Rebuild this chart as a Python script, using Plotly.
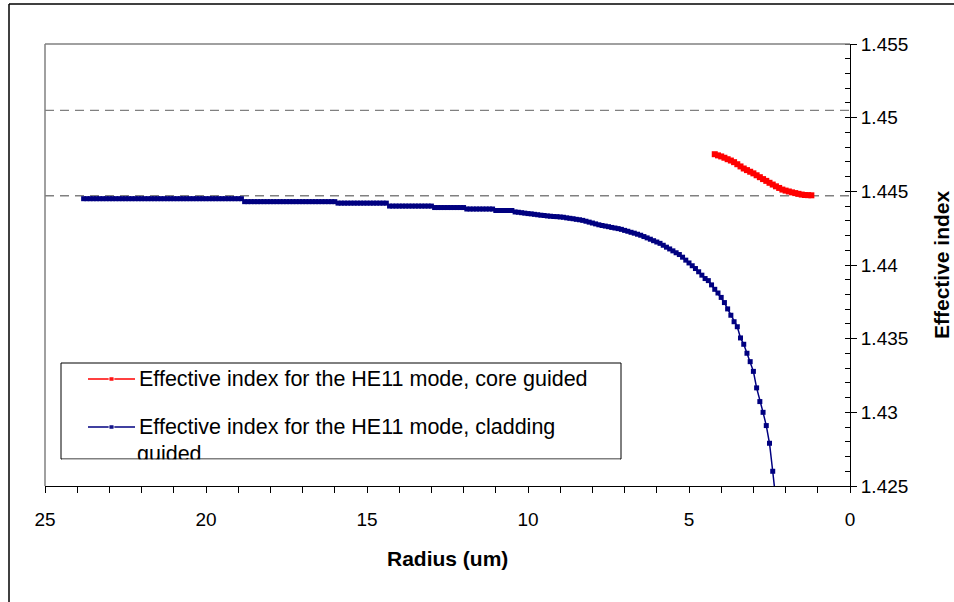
import plotly.graph_objects as go

# radius (um) and effective index, cladding guided HE11 (blue)
RADIUS_CLAD = [
    23.8, 23.7, 23.6, 23.5, 23.4, 23.3, 23.2, 23.1, 23.0, 22.9,
    22.8, 22.7, 22.6, 22.5, 22.4, 22.3, 22.2, 22.1, 22.0, 21.9,
    21.8, 21.7, 21.6, 21.5, 21.4, 21.3, 21.2, 21.1, 21.0, 20.9,
    20.8, 20.7, 20.6, 20.5, 20.4, 20.3, 20.2, 20.1, 20.0, 19.9,
    19.8, 19.7, 19.6, 19.5, 19.4, 19.3, 19.2, 19.1, 19.0, 18.9,
    18.8, 18.7, 18.6, 18.5, 18.4, 18.3, 18.2, 18.1, 18.0, 17.9,
    17.8, 17.7, 17.6, 17.5, 17.4, 17.3, 17.2, 17.1, 17.0, 16.9,
    16.8, 16.7, 16.6, 16.5, 16.4, 16.3, 16.2, 16.1, 16.0, 15.9,
    15.8, 15.7, 15.6, 15.5, 15.4, 15.3, 15.2, 15.1, 15.0, 14.9,
    14.8, 14.7, 14.6, 14.5, 14.4, 14.3, 14.2, 14.1, 14.0, 13.9,
    13.8, 13.7, 13.6, 13.5, 13.4, 13.3, 13.2, 13.1, 13.0, 12.9,
    12.8, 12.7, 12.6, 12.5, 12.4, 12.3, 12.2, 12.1, 12.0, 11.9,
    11.8, 11.7, 11.6, 11.5, 11.4, 11.3, 11.2, 11.1, 11.0, 10.9,
    10.8, 10.7, 10.6, 10.5, 10.4, 10.3, 10.2, 10.1, 10.0, 9.9,
    9.8, 9.7, 9.6, 9.5, 9.4, 9.3, 9.2, 9.1, 9.0, 8.9,
    8.8, 8.7, 8.6, 8.5, 8.4, 8.3, 8.2, 8.1, 8.0, 7.9,
    7.8, 7.7, 7.6, 7.5, 7.4, 7.3, 7.2, 7.1, 7.0, 6.9,
    6.8, 6.7, 6.6, 6.5, 6.4, 6.3, 6.2, 6.1, 6.0, 5.9,
    5.8, 5.7, 5.6, 5.5, 5.4, 5.3, 5.2, 5.1, 5.0, 4.9,
    4.8, 4.7, 4.6, 4.5, 4.4, 4.3, 4.2, 4.1, 4.0, 3.9,
    3.8, 3.7, 3.6, 3.5, 3.4, 3.3, 3.2, 3.1, 3.0, 2.9,
    2.8, 2.7, 2.6, 2.5, 2.4, 2.3,
]
INDEX_CLAD = [
    1.4445, 1.4445, 1.4445, 1.4445, 1.4445, 1.4445, 1.4445, 1.4445, 1.4445, 1.4445,
    1.4445, 1.4445, 1.4445, 1.4445, 1.4445, 1.4445, 1.4445, 1.4445, 1.4445, 1.4445,
    1.4445, 1.4445, 1.4445, 1.4445, 1.4445, 1.4445, 1.4445, 1.4445, 1.4445, 1.4445,
    1.4445, 1.4445, 1.4445, 1.4445, 1.4445, 1.4445, 1.4445, 1.4445, 1.4445, 1.4445,
    1.4445, 1.4445, 1.4445, 1.4445, 1.4445, 1.4445, 1.4445, 1.4445, 1.4445, 1.4445,
    1.4443, 1.4443, 1.4443, 1.4443, 1.4443, 1.4443, 1.4443, 1.4443, 1.4443, 1.4443,
    1.4443, 1.4443, 1.4443, 1.4443, 1.4443, 1.4443, 1.4443, 1.4443, 1.4443, 1.4443,
    1.4443, 1.4443, 1.4443, 1.4443, 1.4443, 1.4443, 1.4443, 1.4443, 1.4443, 1.4442,
    1.4442, 1.4442, 1.4442, 1.4442, 1.4442, 1.4442, 1.4442, 1.4442, 1.4442, 1.4442,
    1.4442, 1.4442, 1.4442, 1.4442, 1.4442, 1.4440, 1.4440, 1.4440, 1.4440, 1.4440,
    1.4440, 1.4440, 1.4440, 1.4440, 1.4440, 1.4440, 1.4440, 1.4440, 1.4440, 1.4439,
    1.4439, 1.4439, 1.4439, 1.4439, 1.4439, 1.4439, 1.4439, 1.4439, 1.4439, 1.4438,
    1.4438, 1.4438, 1.4438, 1.4438, 1.4438, 1.4438, 1.4438, 1.4438, 1.4437, 1.4437,
    1.4437, 1.4437, 1.4437, 1.4437, 1.4436, 1.44358, 1.44355, 1.44352, 1.44349, 1.44347,
    1.44344, 1.44341, 1.44338, 1.44336, 1.44333, 1.44331, 1.44329, 1.44328, 1.44326, 1.44324,
    1.4432, 1.44317, 1.44314, 1.4431, 1.44307, 1.44303, 1.44297, 1.44291, 1.44285, 1.44279,
    1.44273, 1.44268, 1.44264, 1.4426, 1.44255, 1.44251, 1.44247, 1.44242, 1.44235, 1.44229,
    1.44222, 1.44216, 1.44209, 1.44202, 1.44193, 1.44184, 1.44175, 1.44165, 1.44156, 1.44147,
    1.44134, 1.44121, 1.44109, 1.44096, 1.44083, 1.44071, 1.44053, 1.44033, 1.44014, 1.43995,
    1.43976, 1.43954, 1.43931, 1.43908, 1.43894, 1.43865, 1.43835, 1.4381, 1.4378, 1.43745,
    1.43702, 1.43659, 1.43615, 1.43581, 1.43505, 1.43462, 1.43401, 1.43344, 1.43278, 1.43166,
    1.43073, 1.4300, 1.4291, 1.4279, 1.4260, 1.4240,
]

# core guided HE11 (red)
RADIUS_CORE = [
    4.2, 4.1, 4.0, 3.9, 3.8, 3.7, 3.6, 3.5, 3.4, 3.3,
    3.2, 3.1, 3.0, 2.9, 2.8, 2.7, 2.6, 2.5, 2.4, 2.3,
    2.2, 2.1, 2.0, 1.9, 1.8, 1.7, 1.6, 1.5, 1.4, 1.3, 1.2,
]
INDEX_CORE = [
    1.44752, 1.44744, 1.44737, 1.44728, 1.44718, 1.44709, 1.44698, 1.44684, 1.44669, 1.44655,
    1.44644, 1.44633, 1.44622, 1.44609, 1.44596, 1.44583, 1.44571, 1.44558, 1.44546, 1.44534,
    1.44523, 1.44512, 1.44505, 1.44499, 1.44493, 1.44488, 1.44483, 1.44478, 1.44475, 1.44474, 1.44473,
]

# core / cladding material index (dashed reference lines)
REF_LEVELS = [1.4505, 1.4447]

X_TICKS = [25, 20, 15, 10, 5, 0]
Y_TICKS = [1.425, 1.43, 1.435, 1.44, 1.445, 1.45, 1.455]
Y_TICK_TEXT = ["1.425", "1.43", "1.435", "1.44", "1.445", "1.45", "1.455"]

NAME_CORE = "Effective index for the HE11 mode, core guided"
NAME_CLAD = "Effective index for the HE11 mode, cladding"
NAME_CLAD_WRAP = "guided"

FONT = "Liberation Sans, Arial, sans-serif"
BLUE = "#000080"
RED = "#FF0000"

W, H = 954, 602
L, R, T, B = 45, 850, 44, 486   # plot area in pixels


def px(x):
    return (x - L) / (R - L)


def py(y):
    return (B - y) / (B - T)


fig = go.Figure()

fig.add_trace(go.Scatter(
    x=RADIUS_CLAD, y=INDEX_CLAD, mode="lines+markers",
    line=dict(color=BLUE, width=1.5),
    marker=dict(symbol="square", size=5, color=BLUE),
    showlegend=False,
))
fig.add_trace(go.Scatter(
    x=RADIUS_CORE, y=INDEX_CORE, mode="lines+markers",
    line=dict(color=RED, width=2),
    marker=dict(symbol="square", size=6, color=RED),
    showlegend=False,
))

# hand-built legend (symbols + clipped wrap line) on a 0..1 overlay
for row_y, col in [(379, RED), (427, BLUE)]:
    fig.add_trace(go.Scatter(
        x=[px(88), px(111.5), px(135)], y=[py(row_y)] * 3,
        xaxis="x3", yaxis="y3", mode="lines+markers",
        line=dict(color=col, width=1.5),
        marker=dict(symbol="square", size=[0, 5, 0], color=col),
        showlegend=False, hoverinfo="skip",
    ))
fig.add_trace(go.Scatter(
    x=[px(137)], y=[py(456)], xaxis="x3", yaxis="y3", mode="text",
    text=[NAME_CLAD_WRAP], textposition="middle right",
    textfont=dict(family=FONT, size=21.5, color="black"),
    showlegend=False, hoverinfo="skip",
))

shapes = []
for lvl in REF_LEVELS:
    shapes.append(dict(type="line", xref="paper", yref="y", x0=0, x1=1, y0=lvl, y1=lvl,
                       line=dict(color="#808080", width=1.3, dash="9px,6px"), layer="below"))
# legend box
shapes.append(dict(type="rect", xref="paper", yref="paper",
                   x0=px(61), x1=px(621), y0=py(459), y1=py(363),
                   fillcolor="white", line=dict(color="black", width=1), layer="below"))
# cover the overflow of the wrapped legend line
shapes.append(dict(type="rect", xref="paper", yref="paper",
                   x0=px(62), x1=px(620), y0=py(476), y1=py(459.6),
                   fillcolor="white", line=dict(width=0), layer="above"))
# grey plot-area border (top, left)
shapes.append(dict(type="line", xref="paper", yref="paper", x0=0, x1=1, y0=1, y1=1,
                   line=dict(color="#808080", width=1.5), layer="above"))
shapes.append(dict(type="line", xref="paper", yref="paper", x0=0, x1=0, y0=0, y1=1,
                   line=dict(color="#808080", width=1.5), layer="above"))
# outer chart frame (top, left)
shapes.append(dict(type="line", xref="paper", yref="paper", x0=px(9), x1=px(954), y0=py(4), y1=py(4),
                   line=dict(color="black", width=1.5)))
shapes.append(dict(type="line", xref="paper", yref="paper", x0=px(9), x1=px(9), y0=py(602), y1=py(4),
                   line=dict(color="black", width=1.5)))

annotations = [
    dict(text=NAME_CORE, x=px(137), y=py(379), xref="paper", yref="paper",
         xanchor="left", yanchor="middle", showarrow=False,
         font=dict(family=FONT, size=21.5, color="black")),
    dict(text=NAME_CLAD, x=px(137), y=py(427), xref="paper", yref="paper",
         xanchor="left", yanchor="middle", showarrow=False,
         font=dict(family=FONT, size=21.5, color="black")),
    dict(text="<b>Radius (um)</b>", x=0.5, y=py(558), xref="paper", yref="paper",
         xanchor="center", yanchor="middle", showarrow=False,
         font=dict(family=FONT, size=21, color="black")),
    dict(text="<b>Effective index</b>", x=px(941), y=0.5, xref="paper", yref="paper",
         xanchor="center", yanchor="middle", showarrow=False, textangle=-90,
         font=dict(family=FONT, size=21, color="black")),
]

fig.update_layout(
    width=W, height=H, autosize=False,
    margin=dict(l=L, r=W - R, t=T, b=H - B, pad=0),
    paper_bgcolor="white", plot_bgcolor="white",
    font=dict(family=FONT, size=19, color="black"),
    showlegend=False,
    xaxis=dict(
        range=[25, 0], tickmode="array", tickvals=X_TICKS,
        ticks="outside", ticklen=6, tickcolor="black", tickwidth=1,
        showline=True, linecolor="black", linewidth=1,
        showgrid=False, zeroline=False, ticklabelstandoff=10,
        tickfont=dict(family=FONT, size=19, color="black"),
        minor=dict(tickmode="linear", tick0=0, dtick=1, ticks="outside", ticklen=6,
                   tickcolor="black", showgrid=False),
        anchor="y",
    ),
    xaxis2=dict(
        overlaying="x", range=[25, 0], tickmode="linear", tick0=0, dtick=1,
        ticks="inside", ticklen=4, tickcolor="black", showticklabels=False,
        showline=False, showgrid=False, zeroline=False, anchor="y2",
    ),
    yaxis=dict(
        range=[1.425, 1.455], side="right", tickmode="array",
        tickvals=Y_TICKS, ticktext=Y_TICK_TEXT,
        ticks="outside", ticklen=6, tickcolor="black", tickwidth=1,
        showline=True, linecolor="black", linewidth=1,
        showgrid=False, zeroline=False,
        tickfont=dict(family=FONT, size=19, color="black"),
        minor=dict(tickmode="linear", tick0=1.425, dtick=0.001, ticks="inside", ticklen=5,
                   tickcolor="black", showgrid=False),
        anchor="x",
    ),
    yaxis2=dict(
        overlaying="y", range=[1.425, 1.455], side="right", tickmode="array",
        tickvals=Y_TICKS, ticks="inside", ticklen=5, tickcolor="black",
        showticklabels=False, showline=False, showgrid=False, zeroline=False, anchor="x2",
    ),
    xaxis3=dict(overlaying="x", range=[0, 1], visible=False, anchor="y3"),
    yaxis3=dict(overlaying="y", range=[0, 1], visible=False, anchor="x3"),
    shapes=shapes,
    annotations=annotations,
)

fig.write_html("out.html", config={"displayModeBar": False},
               post_script="document.body.style.margin='0';")
